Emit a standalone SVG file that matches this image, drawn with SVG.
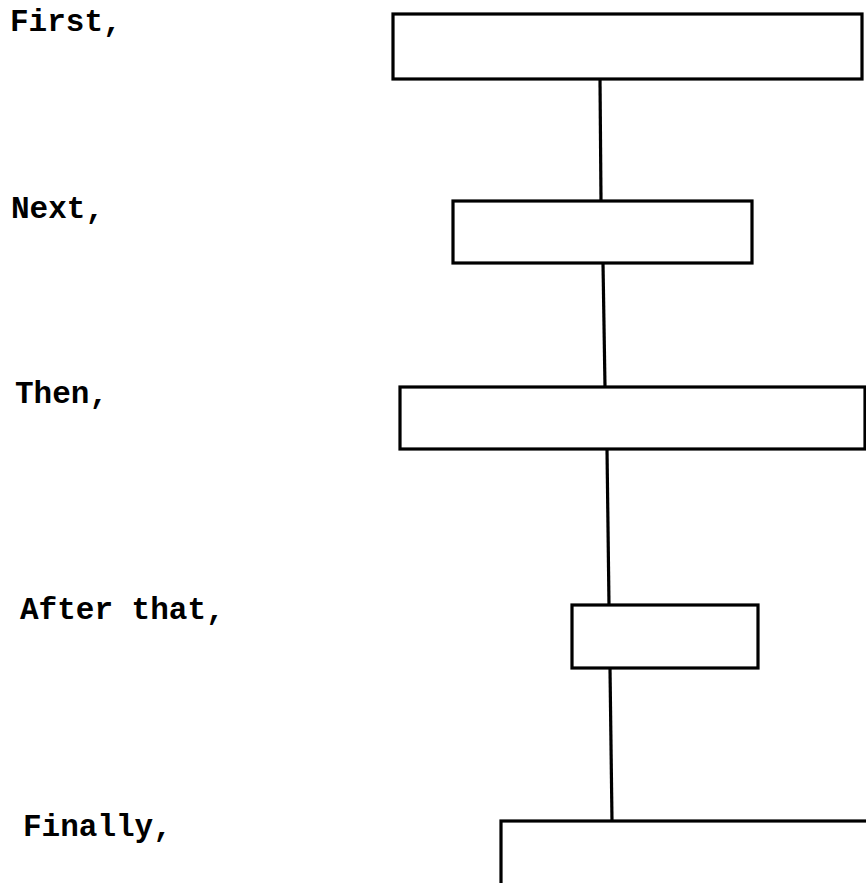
<svg xmlns="http://www.w3.org/2000/svg" width="866" height="883" viewBox="0 0 866 883">
<style>
.lbl{font-family:"Liberation Mono","Courier New",monospace;font-weight:bold;font-size:31px;fill:#000}
.box{fill:#fff;stroke:#000;stroke-width:3.2}
.con{stroke:#000;stroke-width:3.2;fill:none}
</style>
<rect width="866" height="883" fill="#fff"/>
<g id="connectors">
<line class="con" x1="600" y1="79" x2="601" y2="201"/>
<line class="con" x1="603" y1="263" x2="605" y2="387"/>
<line class="con" x1="607" y1="449" x2="609" y2="605"/>
<line class="con" x1="610" y1="668" x2="612" y2="821"/>
</g>
<g id="label-first"><text class="lbl" x="10" y="31">First,</text></g>
<g id="label-next"><text class="lbl" x="11" y="218">Next,</text></g>
<g id="label-then"><text class="lbl" x="15" y="403">Then,</text></g>
<g id="label-after"><text class="lbl" x="20" y="619">After that,</text></g>
<g id="label-finally"><text class="lbl" x="23" y="836">Finally,</text></g>
<g id="box1"><rect class="box" x="393" y="14" width="469" height="65"/></g>
<g id="box2"><rect class="box" x="453" y="201" width="299" height="62"/></g>
<g id="box3"><rect class="box" x="400" y="387" width="465" height="62"/></g>
<g id="box4"><rect class="box" x="572" y="605" width="186" height="63"/></g>
<g id="box5"><rect class="box" x="501" y="821" width="420" height="100"/></g>
</svg>
